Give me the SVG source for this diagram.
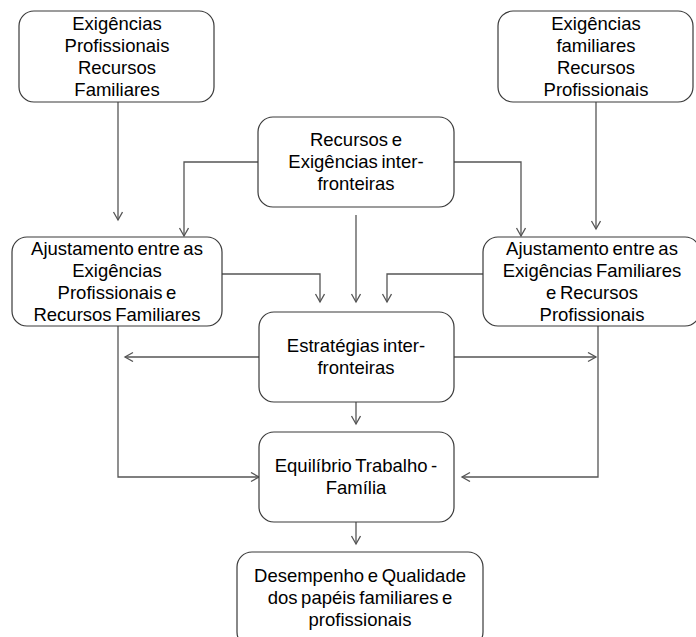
<svg xmlns="http://www.w3.org/2000/svg" width="696" height="637" viewBox="0 0 696 637">
<style>
.box{fill:#fff;stroke:#3a3a3a;stroke-width:1.2}
.t{font-family:"Liberation Sans",Arial,sans-serif;font-size:18.5px;fill:#000;text-anchor:middle;word-spacing:-1.5px}
.c{fill:none;stroke:#555;stroke-width:1.3}
</style>
<defs>
<marker id="a" markerUnits="userSpaceOnUse" markerWidth="12" markerHeight="12" refX="9" refY="5" orient="auto">
<path d="M1,0.5 L9,5 L1,9.5" fill="none" stroke="#555" stroke-width="1.3"/>
</marker>
</defs>
<rect width="696" height="637" fill="#fff"/>
<g id="connectors" class="c">
<path class="c" d="M118,102 V220" marker-end="url(#a)"/>
<path class="c" d="M258,162 H184 V236" marker-end="url(#a)"/>
<path class="c" d="M454,162 H521 V236" marker-end="url(#a)"/>
<path class="c" d="M596,102 V229" marker-end="url(#a)"/>
<path class="c" d="M222,274 H320 V302" marker-end="url(#a)"/>
<path class="c" d="M356,215 V302" marker-end="url(#a)"/>
<path class="c" d="M483,274 H387 V302" marker-end="url(#a)"/>
<path class="c" d="M259,357 H125" marker-end="url(#a)"/>
<path class="c" d="M454,357 H596" marker-end="url(#a)"/>
<path class="c" d="M118,326 V477 H259" marker-end="url(#a)"/>
<path class="c" d="M598,326 V477 H462" marker-end="url(#a)"/>
<path class="c" d="M356,402 V424" marker-end="url(#a)"/>
<path class="c" d="M356,522 V544" marker-end="url(#a)"/>
</g>
<g id="n1">
<rect class="box" x="19" y="11" width="195" height="91" rx="15"/>
<text class="t" x="117" y="30">Exigências</text>
<text class="t" x="117" y="52">Profissionais</text>
<text class="t" x="117" y="74">Recursos</text>
<text class="t" x="117" y="96">Familiares</text>
</g>
<g id="n2">
<rect class="box" x="498" y="11" width="195" height="91" rx="15"/>
<text class="t" x="596" y="30">Exigências</text>
<text class="t" x="596" y="52">familiares</text>
<text class="t" x="596" y="74">Recursos</text>
<text class="t" x="596" y="96">Profissionais</text>
</g>
<g id="n3">
<rect class="box" x="258" y="117" width="196" height="90" rx="15"/>
<text class="t" x="356" y="146">Recursos e</text>
<text class="t" x="356" y="168">Exigências inter-</text>
<text class="t" x="356" y="190">fronteiras</text>
</g>
<g id="n4">
<rect class="box" x="12" y="237" width="210" height="89" rx="15"/>
<text class="t" x="117" y="255">Ajustamento entre as</text>
<text class="t" x="117" y="277">Exigências</text>
<text class="t" x="117" y="299">Profissionais e</text>
<text class="t" x="117" y="321">Recursos Familiares</text>
</g>
<g id="n5">
<rect class="box" x="483" y="237" width="217" height="89" rx="15"/>
<text class="t" x="592" y="255">Ajustamento entre as</text>
<text class="t" x="592" y="277">Exigências Familiares</text>
<text class="t" x="592" y="299">e Recursos</text>
<text class="t" x="592" y="321">Profissionais</text>
</g>
<g id="n6">
<rect class="box" x="259" y="312" width="195" height="90" rx="15"/>
<text class="t" x="356" y="352">Estratégias inter-</text>
<text class="t" x="356" y="374">fronteiras</text>
</g>
<g id="n7">
<rect class="box" x="259" y="432" width="195" height="90" rx="15"/>
<text class="t" x="356" y="472">Equilíbrio Trabalho -</text>
<text class="t" x="356" y="494">Família</text>
</g>
<g id="n8">
<rect class="box" x="237" y="552" width="246" height="95" rx="15"/>
<text class="t" x="360" y="582">Desempenho e Qualidade</text>
<text class="t" x="360" y="604">dos papéis familiares e</text>
<text class="t" x="360" y="626">profissionais</text>
</g>
</svg>
